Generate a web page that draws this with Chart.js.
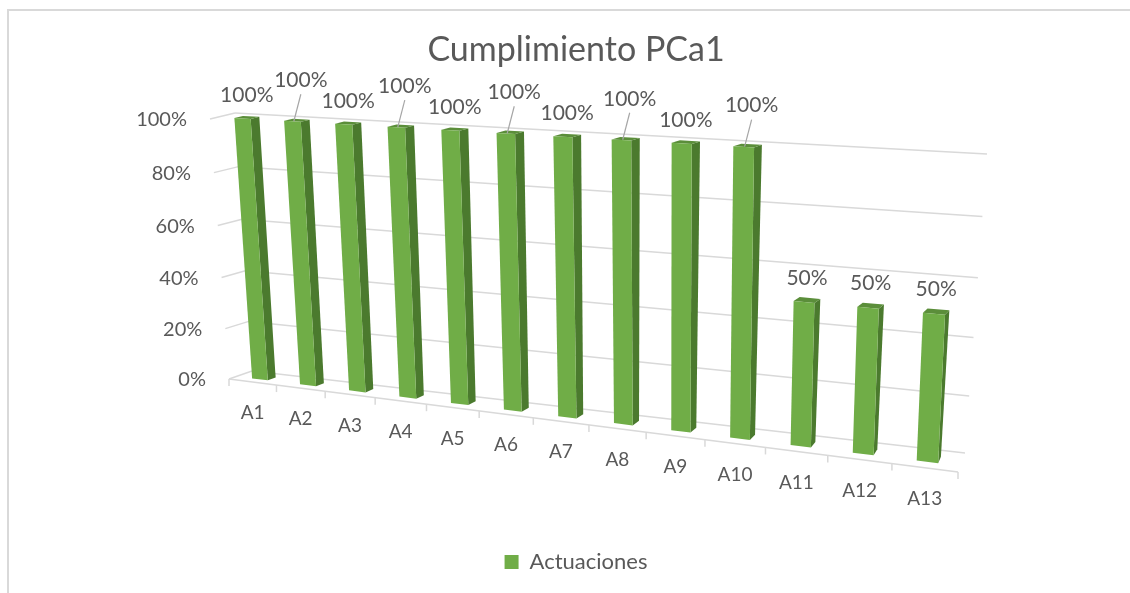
<!DOCTYPE html>
<html>
<head>
<meta charset="utf-8">
<script src="https://cdn.jsdelivr.net/npm/chart.js@4.4.1/dist/chart.umd.min.js"></script>
<style>
    html, body { margin: 0; padding: 0; background: #fff; overflow: hidden; }
    #frame { position: absolute; left: 7px; top: 9px; width: 1200px; height: 700px; border: 2px solid #d9d9d9; box-sizing: border-box; }
    #wrap { position: absolute; left: 0; top: 0; width: 1130px; height: 593px; }
</style>
</head>
<body>
<div id="frame"></div>
<div id="wrap"><canvas id="c" width="1130" height="593"></canvas></div>
<script>
// Data
const categories = ['A1', 'A2', 'A3', 'A4', 'A5', 'A6', 'A7', 'A8', 'A9', 'A10', 'A11', 'A12', 'A13'];
const actuaciones = [100, 100, 100, 100, 100, 100, 100, 100, 100, 100, 50, 50, 50];
const yMin = 0, yMax = 100, yStep = 20;

// Colours
const TEXT = '#595959';
const GRID = '#d9d9d9';
const FRONT = '#70AD47', SIDE = '#4B7A2E', TOP = '#5B8E3A';

// Perspective of the 3D box: screen corners (bottom-left, bottom-right, top-right, top-left)
const frontPlane = [[229, 379], [958, 472], [970, 163], [210, 119]];
const backWall = [[252, 371], [965, 453], [987, 154], [235, 113]];
const barDepth = [0.32, 0.66];

function quadMap(q) {
    const [[x0, y0], [x1, y1], [x2, y2], [x3, y3]] = q;
    const dx1 = x1 - x2, dx2 = x3 - x2, dx3 = x0 - x1 + x2 - x3;
    const dy1 = y1 - y2, dy2 = y3 - y2, dy3 = y0 - y1 + y2 - y3;
    const den = dx1 * dy2 - dx2 * dy1;
    const g = (dx3 * dy2 - dx2 * dy3) / den;
    const h = (dx1 * dy3 - dx3 * dy1) / den;
    const a = x1 - x0 + g * x1, b = x3 - x0 + h * x3;
    const d = y1 - y0 + g * y1, e = y3 - y0 + h * y3;
    return (u, v) => {
        const w = g * u + h * v + 1;
        return [(a * u + b * v + x0) / w, (d * u + e * v + y0) / w];
    };
}
const frontMap = quadMap(frontPlane);
const backMap = quadMap(backWall);
function P(u, v, w) {
    const f = frontMap(u, v), b = backMap(u, v);
    return [f[0] + (b[0] - f[0]) * w, f[1] + (b[1] - f[1]) * w];
}

function line(ctx, a, b) {
    ctx.beginPath();
    ctx.moveTo(a[0], a[1]);
    ctx.lineTo(b[0], b[1]);
    ctx.stroke();
}
function poly(ctx, pts, color) {
    ctx.beginPath();
    ctx.moveTo(pts[0][0], pts[0][1]);
    pts.slice(1).forEach(p => ctx.lineTo(p[0], p[1]));
    ctx.closePath();
    ctx.fillStyle = color;
    ctx.fill();
}

// Draws grid, axes, bars and labels in perspective from the library's scales/elements
const perspective3d = {
    id: 'perspective3d',
    beforeDatasetsDraw(chart) {
        const ctx = chart.ctx;
        const xs = chart.scales.x, ys = chart.scales.y;
        const U = px => (px - xs.left) / (xs.right - xs.left);
        const V = py => (ys.bottom - py) / (ys.bottom - ys.top);
        const n = chart.data.labels.length;
        const half = (xs.getPixelForValue(1) - xs.getPixelForValue(0)) / 2;

        ctx.save();

        // Gridlines on the back wall + left wall stubs, y labels
        ctx.strokeStyle = GRID;
        ctx.lineWidth = 1.5;
        ctx.font = '20px Lato';
        ctx.fillStyle = TEXT;
        ctx.textAlign = 'right';
        ctx.textBaseline = 'middle';
        ys.ticks.forEach(t => {
            const v = V(ys.getPixelForValue(t.value));
            line(ctx, P(0, v, 0), P(0, v, 1));
            line(ctx, P(0, v, 1), P(1, v, 1));
            const p = P(0, v, 0);
            ctx.fillText(t.value + '%', p[0] - 23, p[1] + 1);
        });

        // Bars
        const meta = chart.getDatasetMeta(0);
        const tops = [];
        meta.data.forEach((el) => {
            const { x, y, width } = el.getProps(['x', 'y', 'width'], true);
            const uL = U(x - width / 2), uR = U(x + width / 2), uC = U(x);
            const v = V(y);
            const [w0, w1] = barDepth;
            poly(ctx, [P(uR, 0, w0), P(uR, 0, w1), P(uR, v, w1), P(uR, v, w0)], SIDE);
            poly(ctx, [P(uL, v, w0), P(uR, v, w0), P(uR, v, w1), P(uL, v, w1)], TOP);
            poly(ctx, [P(uL, 0, w0), P(uR, 0, w0), P(uR, v, w0), P(uL, v, w0)], FRONT);
            tops.push(P(uC, v, (w0 + w1) / 2));
        });

        // Front floor edge with ticks
        ctx.strokeStyle = GRID;
        ctx.lineWidth = 1.5;
        line(ctx, P(0, 0, 0), P(1, 0, 0));
        for (let i = 0; i <= n; i++) {
            const p = P(U(xs.getPixelForValue(i) - half), 0, 0);
            line(ctx, p, [p[0], p[1] + 7]);
        }

        // Category labels
        ctx.font = '19px Lato';
        ctx.fillStyle = TEXT;
        ctx.textAlign = 'center';
        chart.data.labels.forEach((lab, i) => {
            const p = P(U(xs.getPixelForValue(i)), 0, 0);
            ctx.fillText(lab, p[0], p[1] + 31);
        });

        // Data labels, raised with a leader line when they would collide
        ctx.font = '21px Lato';
        const placed = [];
        chart.data.datasets[0].data.forEach((val, i) => {
            const txt = val + '%';
            const tw = ctx.measureText(txt).width;
            const a = tops[i];
            let lx = a[0], ly = a[1] - 22, raised = false;
            const prev = placed[i - 1];
            if (prev && !prev.raised && Math.abs(prev.y - ly) < 16 && Math.abs(prev.x - lx) < tw + 10) {
                ly = a[1] - 40;
                lx = a[0] + 4;
                raised = true;
            }
            placed.push({ x: lx, y: ly, raised });
            if (raised) {
                ctx.strokeStyle = '#a6a6a6';
                ctx.lineWidth = 1.2;
                line(ctx, [lx, ly + 14], [a[0] - 3, a[1] + 1]);
            }
            ctx.fillText(txt, lx, ly);
        });

        ctx.restore();
        return false;
    }
};

new Chart(document.getElementById('c'), {
    type: 'bar',
    data: {
        labels: categories,
        datasets: [{
            label: 'Actuaciones',
            data: actuaciones,
            backgroundColor: FRONT,
            categoryPercentage: 1,
            barPercentage: 0.33,
        }],
    },
    options: {
        responsive: false,
        animation: false,
        devicePixelRatio: 1,
        layout: { padding: { top: 22, left: 22, right: 0, bottom: 10 } },
        scales: {
            x: { display: false, offset: true },
            y: { display: false, min: yMin, max: yMax, ticks: { stepSize: yStep } },
        },
        plugins: {
            title: {
                display: true,
                text: 'Cumplimiento PCa1',
                color: TEXT,
                font: { family: 'Lato', size: 34, weight: 'normal' },
                padding: { top: 8, bottom: 10 },
            },
            legend: {
                position: 'bottom',
                labels: {
                    color: TEXT,
                    boxWidth: 14,
                    boxHeight: 14,
                    font: { family: 'Lato', size: 22 },
                },
            },
            tooltip: { enabled: false },
        },
    },
    plugins: [perspective3d],
});
</script>
</body>
</html>
